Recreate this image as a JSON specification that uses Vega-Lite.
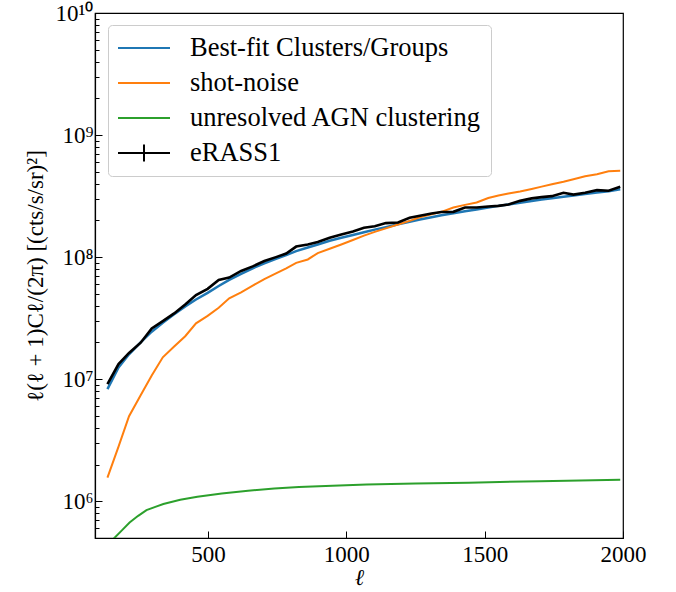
{
  "$schema": "https://vega.github.io/schema/vega-lite/v6.json",
  "autosize": {"type": "none"},
  "padding": {"left": 95, "top": 13, "right": 53, "bottom": 54},
  "width": 528,
  "height": 525,
  "background": "white",
  "config": {
    "view": {"stroke": "black", "strokeWidth": 1.2},
    "font": "Liberation Serif",
    "axis": {
      "domainColor": "black",
      "domainWidth": 1.2,
      "tickColor": "black",
      "grid": false,
      "labelFont": "Liberation Serif",
      "titleFont": "Liberation Serif",
      "labelColor": "black",
      "titleColor": "black",
      "labelFontSize": 23,
      "titleFontSize": 23,
      "titleFontWeight": "normal"
    },
    "legend": {
      "labelFont": "Liberation Serif",
      "labelFontSize": 26.5,
      "labelColor": "black"
    }
  },
  "data": {
    "values": [
      {"s": "Best-fit Clusters/Groups", "l": 137, "v": 8.3e6},
      {"s": "Best-fit Clusters/Groups", "l": 177, "v": 1.25e7},
      {"s": "Best-fit Clusters/Groups", "l": 215, "v": 1.6e7},
      {"s": "Best-fit Clusters/Groups", "l": 257, "v": 2.0e7},
      {"s": "Best-fit Clusters/Groups", "l": 297, "v": 2.45e7},
      {"s": "Best-fit Clusters/Groups", "l": 337, "v": 2.9e7},
      {"s": "Best-fit Clusters/Groups", "l": 378, "v": 3.4e7},
      {"s": "Best-fit Clusters/Groups", "l": 418, "v": 3.95e7},
      {"s": "Best-fit Clusters/Groups", "l": 457, "v": 4.5e7},
      {"s": "Best-fit Clusters/Groups", "l": 499, "v": 5.1e7},
      {"s": "Best-fit Clusters/Groups", "l": 539, "v": 5.8e7},
      {"s": "Best-fit Clusters/Groups", "l": 577, "v": 6.5e7},
      {"s": "Best-fit Clusters/Groups", "l": 620, "v": 7.3e7},
      {"s": "Best-fit Clusters/Groups", "l": 662, "v": 8.1e7},
      {"s": "Best-fit Clusters/Groups", "l": 704, "v": 8.9e7},
      {"s": "Best-fit Clusters/Groups", "l": 746, "v": 9.7e7},
      {"s": "Best-fit Clusters/Groups", "l": 783, "v": 1.04e8},
      {"s": "Best-fit Clusters/Groups", "l": 819, "v": 1.12e8},
      {"s": "Best-fit Clusters/Groups", "l": 861, "v": 1.2e8},
      {"s": "Best-fit Clusters/Groups", "l": 897, "v": 1.27e8},
      {"s": "Best-fit Clusters/Groups", "l": 940, "v": 1.36e8},
      {"s": "Best-fit Clusters/Groups", "l": 982, "v": 1.44e8},
      {"s": "Best-fit Clusters/Groups", "l": 1024, "v": 1.52e8},
      {"s": "Best-fit Clusters/Groups", "l": 1064, "v": 1.6e8},
      {"s": "Best-fit Clusters/Groups", "l": 1103, "v": 1.68e8},
      {"s": "Best-fit Clusters/Groups", "l": 1143, "v": 1.76e8},
      {"s": "Best-fit Clusters/Groups", "l": 1187, "v": 1.86e8},
      {"s": "Best-fit Clusters/Groups", "l": 1229, "v": 1.95e8},
      {"s": "Best-fit Clusters/Groups", "l": 1266, "v": 2.03e8},
      {"s": "Best-fit Clusters/Groups", "l": 1308, "v": 2.12e8},
      {"s": "Best-fit Clusters/Groups", "l": 1344, "v": 2.2e8},
      {"s": "Best-fit Clusters/Groups", "l": 1387, "v": 2.29e8},
      {"s": "Best-fit Clusters/Groups", "l": 1429, "v": 2.38e8},
      {"s": "Best-fit Clusters/Groups", "l": 1471, "v": 2.46e8},
      {"s": "Best-fit Clusters/Groups", "l": 1513, "v": 2.55e8},
      {"s": "Best-fit Clusters/Groups", "l": 1550, "v": 2.63e8},
      {"s": "Best-fit Clusters/Groups", "l": 1586, "v": 2.7e8},
      {"s": "Best-fit Clusters/Groups", "l": 1628, "v": 2.79e8},
      {"s": "Best-fit Clusters/Groups", "l": 1670, "v": 2.88e8},
      {"s": "Best-fit Clusters/Groups", "l": 1706, "v": 2.96e8},
      {"s": "Best-fit Clusters/Groups", "l": 1743, "v": 3.04e8},
      {"s": "Best-fit Clusters/Groups", "l": 1785, "v": 3.13e8},
      {"s": "Best-fit Clusters/Groups", "l": 1821, "v": 3.2e8},
      {"s": "Best-fit Clusters/Groups", "l": 1863, "v": 3.29e8},
      {"s": "Best-fit Clusters/Groups", "l": 1906, "v": 3.38e8},
      {"s": "Best-fit Clusters/Groups", "l": 1948, "v": 3.47e8},
      {"s": "Best-fit Clusters/Groups", "l": 1990, "v": 3.6e8},

      {"s": "shot-noise", "l": 137, "v": 1.56e6},
      {"s": "shot-noise", "l": 177, "v": 2.8e6},
      {"s": "shot-noise", "l": 215, "v": 4.98e6},
      {"s": "shot-noise", "l": 257, "v": 7.4e6},
      {"s": "shot-noise", "l": 297, "v": 1.07e7},
      {"s": "shot-noise", "l": 337, "v": 1.51e7},
      {"s": "shot-noise", "l": 378, "v": 1.85e7},
      {"s": "shot-noise", "l": 418, "v": 2.25e7},
      {"s": "shot-noise", "l": 457, "v": 2.87e7},
      {"s": "shot-noise", "l": 499, "v": 3.3e7},
      {"s": "shot-noise", "l": 539, "v": 3.85e7},
      {"s": "shot-noise", "l": 577, "v": 4.6e7},
      {"s": "shot-noise", "l": 620, "v": 5.15e7},
      {"s": "shot-noise", "l": 662, "v": 5.85e7},
      {"s": "shot-noise", "l": 704, "v": 6.6e7},
      {"s": "shot-noise", "l": 746, "v": 7.35e7},
      {"s": "shot-noise", "l": 783, "v": 8.1e7},
      {"s": "shot-noise", "l": 819, "v": 8.97e7},
      {"s": "shot-noise", "l": 861, "v": 9.57e7},
      {"s": "shot-noise", "l": 897, "v": 1.08e8},
      {"s": "shot-noise", "l": 940, "v": 1.17e8},
      {"s": "shot-noise", "l": 982, "v": 1.27e8},
      {"s": "shot-noise", "l": 1024, "v": 1.38e8},
      {"s": "shot-noise", "l": 1064, "v": 1.5e8},
      {"s": "shot-noise", "l": 1103, "v": 1.61e8},
      {"s": "shot-noise", "l": 1143, "v": 1.72e8},
      {"s": "shot-noise", "l": 1187, "v": 1.85e8},
      {"s": "shot-noise", "l": 1229, "v": 1.98e8},
      {"s": "shot-noise", "l": 1266, "v": 2.12e8},
      {"s": "shot-noise", "l": 1308, "v": 2.24e8},
      {"s": "shot-noise", "l": 1344, "v": 2.35e8},
      {"s": "shot-noise", "l": 1387, "v": 2.55e8},
      {"s": "shot-noise", "l": 1429, "v": 2.68e8},
      {"s": "shot-noise", "l": 1471, "v": 2.8e8},
      {"s": "shot-noise", "l": 1513, "v": 3.05e8},
      {"s": "shot-noise", "l": 1550, "v": 3.2e8},
      {"s": "shot-noise", "l": 1586, "v": 3.32e8},
      {"s": "shot-noise", "l": 1628, "v": 3.45e8},
      {"s": "shot-noise", "l": 1670, "v": 3.62e8},
      {"s": "shot-noise", "l": 1706, "v": 3.78e8},
      {"s": "shot-noise", "l": 1743, "v": 3.95e8},
      {"s": "shot-noise", "l": 1785, "v": 4.15e8},
      {"s": "shot-noise", "l": 1821, "v": 4.35e8},
      {"s": "shot-noise", "l": 1863, "v": 4.6e8},
      {"s": "shot-noise", "l": 1906, "v": 4.78e8},
      {"s": "shot-noise", "l": 1948, "v": 5.05e8},
      {"s": "shot-noise", "l": 1990, "v": 5.1e8},

      {"s": "unresolved AGN clustering", "l": 137, "v": 4.4e5},
      {"s": "unresolved AGN clustering", "l": 162, "v": 5.0e5},
      {"s": "unresolved AGN clustering", "l": 190, "v": 5.8e5},
      {"s": "unresolved AGN clustering", "l": 217, "v": 6.7e5},
      {"s": "unresolved AGN clustering", "l": 248, "v": 7.6e5},
      {"s": "unresolved AGN clustering", "l": 278, "v": 8.46e5},
      {"s": "unresolved AGN clustering", "l": 310, "v": 9.0e5},
      {"s": "unresolved AGN clustering", "l": 339, "v": 9.5e5},
      {"s": "unresolved AGN clustering", "l": 400, "v": 1.03e6},
      {"s": "unresolved AGN clustering", "l": 462, "v": 1.09e6},
      {"s": "unresolved AGN clustering", "l": 550, "v": 1.16e6},
      {"s": "unresolved AGN clustering", "l": 645, "v": 1.22e6},
      {"s": "unresolved AGN clustering", "l": 740, "v": 1.27e6},
      {"s": "unresolved AGN clustering", "l": 829, "v": 1.31e6},
      {"s": "unresolved AGN clustering", "l": 950, "v": 1.34e6},
      {"s": "unresolved AGN clustering", "l": 1074, "v": 1.37e6},
      {"s": "unresolved AGN clustering", "l": 1250, "v": 1.4e6},
      {"s": "unresolved AGN clustering", "l": 1442, "v": 1.42e6},
      {"s": "unresolved AGN clustering", "l": 1700, "v": 1.46e6},
      {"s": "unresolved AGN clustering", "l": 1990, "v": 1.5e6},

      {"s": "eRASS1", "l": 137, "v": 9.1e6},
      {"s": "eRASS1", "l": 177, "v": 1.33e7},
      {"s": "eRASS1", "l": 215, "v": 1.64e7},
      {"s": "eRASS1", "l": 257, "v": 1.99e7},
      {"s": "eRASS1", "l": 297, "v": 2.6e7},
      {"s": "eRASS1", "l": 337, "v": 2.99e7},
      {"s": "eRASS1", "l": 378, "v": 3.46e7},
      {"s": "eRASS1", "l": 418, "v": 4.1e7},
      {"s": "eRASS1", "l": 457, "v": 4.89e7},
      {"s": "eRASS1", "l": 499, "v": 5.5e7},
      {"s": "eRASS1", "l": 539, "v": 6.5e7},
      {"s": "eRASS1", "l": 577, "v": 6.8e7},
      {"s": "eRASS1", "l": 620, "v": 7.7e7},
      {"s": "eRASS1", "l": 662, "v": 8.4e7},
      {"s": "eRASS1", "l": 704, "v": 9.3e7},
      {"s": "eRASS1", "l": 746, "v": 1.0e8},
      {"s": "eRASS1", "l": 783, "v": 1.07e8},
      {"s": "eRASS1", "l": 819, "v": 1.22e8},
      {"s": "eRASS1", "l": 861, "v": 1.27e8},
      {"s": "eRASS1", "l": 897, "v": 1.33e8},
      {"s": "eRASS1", "l": 940, "v": 1.44e8},
      {"s": "eRASS1", "l": 982, "v": 1.53e8},
      {"s": "eRASS1", "l": 1024, "v": 1.62e8},
      {"s": "eRASS1", "l": 1064, "v": 1.74e8},
      {"s": "eRASS1", "l": 1103, "v": 1.79e8},
      {"s": "eRASS1", "l": 1143, "v": 1.9e8},
      {"s": "eRASS1", "l": 1187, "v": 1.92e8},
      {"s": "eRASS1", "l": 1229, "v": 2.1e8},
      {"s": "eRASS1", "l": 1266, "v": 2.18e8},
      {"s": "eRASS1", "l": 1308, "v": 2.28e8},
      {"s": "eRASS1", "l": 1344, "v": 2.34e8},
      {"s": "eRASS1", "l": 1387, "v": 2.35e8},
      {"s": "eRASS1", "l": 1429, "v": 2.55e8},
      {"s": "eRASS1", "l": 1471, "v": 2.55e8},
      {"s": "eRASS1", "l": 1513, "v": 2.6e8},
      {"s": "eRASS1", "l": 1550, "v": 2.63e8},
      {"s": "eRASS1", "l": 1586, "v": 2.7e8},
      {"s": "eRASS1", "l": 1628, "v": 2.89e8},
      {"s": "eRASS1", "l": 1670, "v": 3.03e8},
      {"s": "eRASS1", "l": 1706, "v": 3.1e8},
      {"s": "eRASS1", "l": 1743, "v": 3.16e8},
      {"s": "eRASS1", "l": 1785, "v": 3.37e8},
      {"s": "eRASS1", "l": 1821, "v": 3.25e8},
      {"s": "eRASS1", "l": 1863, "v": 3.37e8},
      {"s": "eRASS1", "l": 1906, "v": 3.54e8},
      {"s": "eRASS1", "l": 1948, "v": 3.5e8},
      {"s": "eRASS1", "l": 1990, "v": 3.77e8}
    ]
  },
  "encoding": {
    "x": {
      "field": "l",
      "type": "quantitative",
      "scale": {"domain": [92, 2000], "nice": false, "zero": false},
      "axis": {
        "title": "ℓ",
        "titleFontStyle": "italic",
        "titlePadding": 0,
        "values": [500, 1000, 1500, 2000],
        "format": "d",
        "labelFont": "Liberation Serif",
        "tickSize": -7,
        "labelPadding": 12,
        "labelFlush": false
      }
    },
    "y": {
      "field": "v",
      "type": "quantitative",
      "scale": {"type": "log", "domain": [5e5, 1e10], "nice": false},
      "axis": {
        "title": "ℓ(ℓ + 1)Cℓ/(2π) [(cts/s/sr)²]",
        "titlePadding": 8,
        "values": [6e5, 7e5, 8e5, 9e5, 1e6, 2e6, 3e6, 4e6, 5e6, 6e6, 7e6, 8e6, 9e6, 1e7, 2e7, 3e7, 4e7, 5e7, 6e7, 7e7, 8e7, 9e7, 1e8, 2e8, 3e8, 4e8, 5e8, 6e8, 7e8, 8e8, 9e8, 1e9, 2e9, 3e9, 4e9, 5e9, 6e9, 7e9, 8e9, 9e9, 1e10],
        "labelExpr": "datum.value == 1e6 ? '10⁶' : datum.value == 1e7 ? '10⁷' : datum.value == 1e8 ? '10⁸' : datum.value == 1e9 ? '10⁹' : datum.value == 1e10 ? '10¹⁰' : ''",
        "labelFont": "Liberation Serif",
        "tickSize": {"condition": {"test": "datum.value == 1e6 || datum.value == 1e7 || datum.value == 1e8 || datum.value == 1e9 || datum.value == 1e10", "value": -7}, "value": -4},
        "labelPadding": 9,
        "labelFlush": false,
        "labelOverlap": false
      }
    },
    "color": {
      "field": "s",
      "type": "nominal",
      "scale": {
        "domain": ["Best-fit Clusters/Groups", "shot-noise", "unresolved AGN clustering", "eRASS1"],
        "range": ["#1f77b4", "#ff7f0e", "#2ca02c", "#000000"]
      },
      "legend": {
        "title": null,
        "orient": "none",
        "legendX": 13,
        "legendY": 12,
        "padding": 9,
        "fillColor": "white",
        "strokeColor": "#cccccc",
        "cornerRadius": 4,
        "symbolSize": 676,
        "symbolStrokeWidth": 2,
        "symbolType": "stroke",
        "labelOffset": 45,
        "rowPadding": 7,
        "labelLimit": 400,
        "encode": {
          "symbols": {
            "update": {
              "shape": {"signal": "datum.value === 'eRASS1' ? 'M-1,0H3M1,-0.65V0.65' : 'M-1,0H3'"},
              "fill": {"value": "transparent"}
            }
          }
        }
      }
    }
  },
  "layer": [
    {"transform": [{"filter": "datum.s === 'Best-fit Clusters/Groups'"}], "mark": {"type": "line", "strokeWidth": 2.5, "clip": true}},
    {"transform": [{"filter": "datum.s === 'shot-noise'"}], "mark": {"type": "line", "strokeWidth": 2, "clip": true}},
    {"transform": [{"filter": "datum.s === 'unresolved AGN clustering'"}], "mark": {"type": "line", "strokeWidth": 2, "clip": true}},
    {"transform": [{"filter": "datum.s === 'eRASS1'"}], "mark": {"type": "line", "strokeWidth": 2.6, "clip": true}}
  ]
}
